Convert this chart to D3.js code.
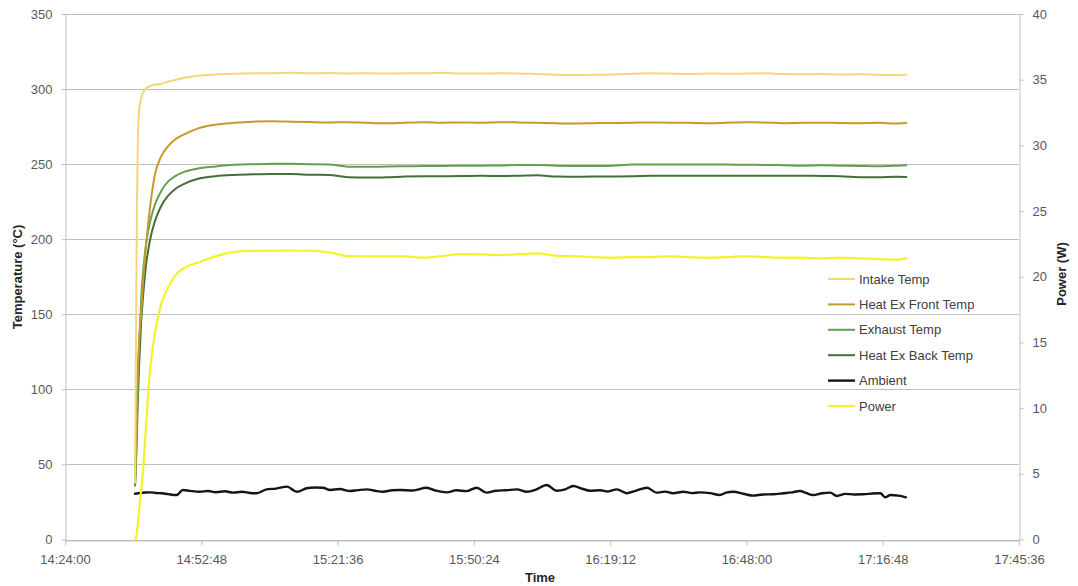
<!DOCTYPE html>
<html>
<head>
<meta charset="utf-8">
<script src="https://cdn.jsdelivr.net/npm/d3@7"></script>
<style>
  html, body { margin: 0; padding: 0; background: #ffffff; }
  svg { display: block; font-family: "Liberation Sans", Arial, sans-serif; }
</style>
</head>
<body>
<svg id="chart" width="1078" height="586"></svg>
<script>
// Run started at this clock time; sample times below are minutes since then.
const runStart = "14:38:48";

// Time axis tick labels (Excel-style 28:48 spacing)
const timeTicks = ["14:24:00", "14:52:48", "15:21:36", "15:50:24", "16:19:12", "16:48:00", "17:16:48", "17:45:36"];
const tempTicks = [0, 50, 100, 150, 200, 250, 300, 350];
const powerTicks = [0, 5, 10, 15, 20, 25, 30, 35, 40];

// Shared sample times (minutes) for the thermocouple and power channels
const runMinutes = [0, 0.1, 0.2, 0.3, 0.45, 0.6, 0.85, 1.3, 1.7, 2.3, 3.2, 4.2, 5.5, 7, 8.5, 10.5, 13.5, 17, 21, 25,
  29, 33, 37, 41, 45, 49, 53, 57, 61, 65, 69, 73, 77, 81, 85, 89, 93, 97, 101, 105,
  109, 113, 117, 121, 125, 129, 133, 137, 141, 145, 149, 153, 157, 161, 163];

const intakeTemp = [38, 80, 130, 180, 235, 268, 285, 294, 297.5, 300.5, 302, 303, 303.5, 305, 306, 307.5, 309, 309.7, 310.2, 310.5,
  310.6, 310.8, 310.5, 310.7, 310.4, 310.6, 310.3, 310.6, 310.5, 310.8, 310.4, 310.3, 310.5, 310.4, 310.0, 309.6, 309.4, 309.5, 309.7, 310.2,
  310.6, 310.3, 310.1, 310.4, 310.2, 310.3, 310.5, 310.0, 309.8, 310.0, 309.7, 309.8, 309.5, 309.3, 309.6];

const heatExFrontTemp = [38, 50, 65, 80, 100, 115, 132, 152, 172, 195, 222, 243, 255, 262, 266.5, 270, 274, 276.3, 277.5, 278.3,
  278.6, 278.3, 278.0, 277.8, 277.9, 277.5, 277.2, 277.6, 277.9, 277.6, 277.8, 277.6, 277.9, 277.8, 277.5, 277.2, 277.0, 277.3, 277.4, 277.6,
  277.8, 277.6, 277.5, 277.3, 277.6, 277.9, 277.8, 277.3, 277.5, 277.6, 277.4, 277.3, 277.5, 277.1, 277.4];

const exhaustTemp = [36, 45, 55, 68, 88, 105, 128, 160, 178, 196, 212, 223, 232, 238.5, 242, 245, 247.2, 248.5, 249.6, 250.0,
  250.2, 250.3, 250.0, 249.8, 248.3, 248.2, 248.4, 248.6, 248.7, 248.8, 248.9, 249.0, 249.1, 249.5, 249.5, 248.9, 248.8, 248.7, 249.0, 249.7,
  249.8, 249.7, 249.8, 249.8, 249.7, 249.6, 249.5, 249.3, 249.0, 249.2, 249.0, 248.8, 248.6, 249.0, 249.3];

const heatExBackTemp = [36, 42, 50, 60, 78, 94, 115, 145, 162, 182, 200, 212, 222, 229, 233.5, 237, 240.4, 242, 242.8, 243.2,
  243.4, 243.4, 243.0, 242.8, 241.3, 241.1, 241.2, 241.8, 242.0, 242.0, 242.1, 242.2, 242.1, 242.3, 242.6, 241.7, 241.6, 241.7, 241.8, 242.0,
  242.3, 242.2, 242.3, 242.3, 242.2, 242.3, 242.2, 242.2, 242.3, 242.1, 242.0, 241.3, 241.2, 241.6, 241.5];

const heaterPower = [0, 0, 0.1, 0.3, 0.8, 1.3, 2.2, 3.8, 5.3, 8.5, 13.0, 15.7, 17.9, 19.2, 20.1, 20.7, 21.1, 21.55, 21.9, 21.97,
  21.98, 22.0, 21.98, 21.85, 21.58, 21.55, 21.55, 21.55, 21.45, 21.58, 21.72, 21.7, 21.65, 21.72, 21.78, 21.6, 21.55, 21.5, 21.45, 21.5,
  21.5, 21.55, 21.5, 21.45, 21.5, 21.55, 21.5, 21.45, 21.45, 21.4, 21.45, 21.4, 21.35, 21.3, 21.4];

// Ambient thermocouple logged on its own, finer grid
const ambientMinutes = [0, 1.1, 2.1, 3.2, 4.4, 5.7, 7.0, 8.8, 10.1, 11.6, 13.7, 15.4, 17.1, 19.0, 20.7, 22.6, 24.3, 25.7, 27.8, 29.8,
  32.1, 34.2, 36.3, 38.0, 39.7, 41.2, 43.3, 45.4, 47.1, 49.0, 50.7, 52.4, 54.3, 56.0, 58.7, 61.6, 63.6, 65.9, 67.9, 70.0,
  72.2, 74.3, 76.3, 78.4, 80.7, 82.8, 84.7, 87.0, 89.1, 90.9, 92.6, 94.5, 96.1, 98.3, 99.9, 101.8, 103.9, 105.9, 108.2, 110.2,
  112.0, 113.7, 115.9, 117.7, 119.4, 121.5, 123.6, 124.9, 126.4, 128.5, 130.6, 132.7, 134.8, 137.0, 138.8, 140.5, 141.8, 143.3, 145.2, 146.9,
  148.3, 150.1, 152.0, 153.9, 155.8, 157.5, 158.5, 159.6, 161.3, 162.9];
const ambientTemp = [30.5, 31.0, 31.3, 31.4, 31.0, 30.8, 30.2, 29.6, 33.0, 32.4, 31.8, 32.3, 31.5, 32.1, 31.2, 31.8, 31.0, 30.8, 33.4, 33.9,
  35.2, 31.8, 34.1, 34.6, 34.5, 33.0, 33.6, 32.3, 32.9, 33.4, 32.5, 31.8, 32.8, 33.0, 32.6, 34.5, 32.5, 31.4, 32.8, 32.2,
  34.5, 31.2, 32.5, 32.8, 33.4, 31.8, 33.2, 36.3, 32.5, 33.4, 35.6, 33.8, 32.5, 32.8, 32.0, 33.4, 30.8, 32.6, 34.5, 31.2,
  31.9, 30.8, 31.8, 30.9, 31.4, 30.9, 29.6, 31.2, 31.8, 30.5, 29.2, 30.0, 30.1, 30.8, 31.4, 32.3, 31.0, 29.6, 30.8, 31.2,
  29.0, 30.4, 30.0, 30.1, 30.6, 30.8, 28.1, 29.6, 29.2, 28.1];

const seriesNames = ["Intake Temp", "Heat Ex Front Temp", "Exhaust Temp", "Heat Ex Back Temp", "Ambient", "Power"];
const seriesColors = ["#F5D57C", "#C59B2A", "#63A04E", "#43703A", "#151515", "#F4F22A"];

const parseClock = d3.timeParse("%H:%M:%S");
const startTime = parseClock(runStart);
const at = m => new Date(startTime.getTime() + m * 60000);

const series = [
  { name: seriesNames[0], color: seriesColors[0], axis: "temp", t: runMinutes, v: intakeTemp, w: 2 },
  { name: seriesNames[1], color: seriesColors[1], axis: "temp", t: runMinutes, v: heatExFrontTemp, w: 2 },
  { name: seriesNames[2], color: seriesColors[2], axis: "temp", t: runMinutes, v: exhaustTemp, w: 2 },
  { name: seriesNames[3], color: seriesColors[3], axis: "temp", t: runMinutes, v: heatExBackTemp, w: 2 },
  { name: seriesNames[4], color: seriesColors[4], axis: "temp", t: ambientMinutes, v: ambientTemp, w: 2.4 },
  { name: seriesNames[5], color: seriesColors[5], axis: "power", t: runMinutes, v: heaterPower, w: 2.2 }
];

const svg = d3.select("#chart");
const plot = { left: 65, right: 1019, top: 14, bottom: 539.5 };

const x = d3.scaleTime()
  .domain([parseClock(timeTicks[0]), parseClock(timeTicks[timeTicks.length - 1])])
  .range([plot.left, plot.right]);
const yTemp = d3.scaleLinear().domain([0, 350]).range([plot.bottom, plot.top]);
const yPower = d3.scaleLinear().domain([0, 40]).range([plot.bottom, plot.top]);

const gridColor = "#BFBFBF";
const labelColor = "#595959";

// Horizontal gridlines
svg.append("g").selectAll("line").data(tempTicks).join("line")
  .attr("x1", plot.left).attr("x2", plot.right)
  .attr("y1", d => Math.round(yTemp(d)) + 0.5).attr("y2", d => Math.round(yTemp(d)) + 0.5)
  .attr("stroke", gridColor).attr("stroke-width", 1);

function styleAxis(g) {
  g.selectAll(".domain").attr("stroke", gridColor);
  g.selectAll(".tick line").attr("stroke", gridColor);
  g.selectAll(".tick text").attr("fill", labelColor)
    .style("font-family", "'Liberation Sans', Arial, sans-serif").style("font-size", "13px");
}

// Left temperature axis
svg.append("g")
  .attr("transform", `translate(${plot.left + 0.5},0)`)
  .call(d3.axisLeft(yTemp).tickValues(tempTicks).tickSize(4).tickPadding(9).tickSizeOuter(0))
  .call(styleAxis);

// Right power axis
svg.append("g")
  .attr("transform", `translate(${plot.right + 0.5},0)`)
  .call(d3.axisRight(yPower).tickValues(powerTicks).tickSize(4).tickPadding(9).tickSizeOuter(0))
  .call(styleAxis);

// Bottom time axis
svg.append("g")
  .attr("transform", `translate(0,${Math.round(plot.bottom) + 0.5})`)
  .call(d3.axisBottom(x).tickValues(timeTicks.map(parseClock))
    .tickFormat(d3.timeFormat("%H:%M:%S")).tickSize(5).tickPadding(9).tickSizeOuter(0))
  .call(styleAxis);

// Data lines
const lineTemp = d3.line().curve(d3.curveMonotoneX).x((d) => x(d[0])).y(d => yTemp(d[1]));
const linePower = d3.line().curve(d3.curveMonotoneX).x((d) => x(d[0])).y(d => yPower(d[1]));

const drawOrder = [4, 5, 3, 2, 1, 0];
svg.append("g").selectAll("path").data(drawOrder.map(i => series[i])).join("path")
  .attr("fill", "none")
  .attr("stroke", d => d.color)
  .attr("stroke-width", d => d.w)
  .attr("stroke-linejoin", "round")
  .attr("stroke-linecap", "round")
  .attr("d", d => {
    const pts = d.t.map((m, i) => [at(m), d.v[i]]);
    return d.axis === "power" ? linePower(pts) : lineTemp(pts);
  });

// Axis titles
svg.append("text")
  .attr("transform", "translate(22,277) rotate(-90)")
  .attr("text-anchor", "middle")
  .attr("font-size", 13).attr("font-weight", "bold").attr("fill", "#262626")
  .text("Temperature (°C)");

svg.append("text")
  .attr("transform", "translate(1066,274) rotate(-90)")
  .attr("text-anchor", "middle")
  .attr("font-size", 13).attr("font-weight", "bold").attr("fill", "#262626")
  .text("Power (W)");

svg.append("text")
  .attr("x", 540).attr("y", 582)
  .attr("text-anchor", "middle")
  .attr("font-size", 13).attr("font-weight", "bold").attr("fill", "#262626")
  .text("Time");

// Legend
const legend = svg.append("g").attr("transform", "translate(828,279)");
const item = legend.selectAll("g").data(series).join("g")
  .attr("transform", (d, i) => `translate(0,${i * 25.4})`);
item.append("line")
  .attr("x1", 0).attr("x2", 27).attr("y1", 0).attr("y2", 0)
  .attr("stroke", d => d.color).attr("stroke-width", d => d.w);
item.append("text")
  .attr("x", 31).attr("y", 0).attr("dy", "0.35em")
  .attr("font-size", 13).attr("fill", "#404040")
  .text(d => d.name);
</script>
</body>
</html>
